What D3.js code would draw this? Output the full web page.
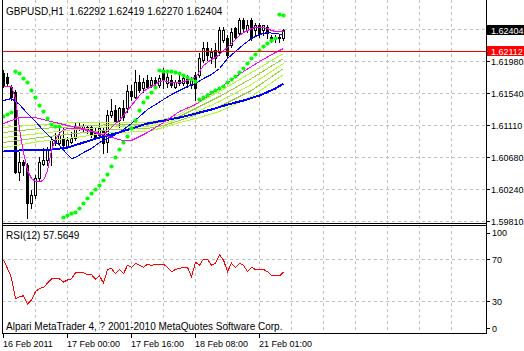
<!DOCTYPE html>
<html>
<head>
<meta charset="utf-8">
<script src="https://cdn.jsdelivr.net/npm/d3@7"></script>
<style>
body { margin: 0; background: #fff; }
svg { display: block; font-family: "Liberation Sans", Arial, sans-serif; font-size: 9px; }
.caption { font-size: 10px; }
</style>
</head>
<body>
<script>
// GBPUSD H1 candles (bar 0 = 16 Feb 2011 08:00)
var open  = [1.61817,1.61763,1.61627,1.61559,1.60474,1.60610,1.60569,1.60054,1.60162,1.60393,
             1.60583,1.60637,1.60786,1.60867,1.60867,1.60935,1.60827,1.60881,1.60935,1.61098,
             1.61071,1.61085,1.61085,1.61017,1.60976,1.61044,1.60881,1.61247,1.61315,1.61179,
             1.61342,1.61342,1.61573,1.61491,1.61695,1.61613,1.61722,1.61654,1.61722,1.61654,
             1.61830,1.61681,1.61722,1.61627,1.61722,1.61681,1.61763,1.61654,1.61790,1.61790,
             1.61993,1.62156,1.62034,1.62129,1.62102,1.62264,1.62292,1.62197,1.62427,1.62359,
             1.62536,1.62400,1.62536,1.62400,1.62468,1.62400,1.62441,1.62305,1.62292,1.62305,
             1.62292];
var high  = [1.61858,1.61817,1.61654,1.61586,1.60745,1.60637,1.60596,1.60230,1.60433,1.60678,
             1.60800,1.60813,1.60949,1.61003,1.61085,1.61085,1.60949,1.61017,1.61139,1.61139,
             1.61125,1.61112,1.61112,1.61085,1.61152,1.61085,1.61315,1.61464,1.61383,1.61356,
             1.61451,1.61654,1.61654,1.61858,1.61790,1.61749,1.61790,1.61763,1.61763,1.61790,
             1.61885,1.61817,1.61790,1.61722,1.61790,1.61790,1.61790,1.61763,1.61830,1.62088,
             1.62237,1.62237,1.62156,1.62224,1.62441,1.62441,1.62332,1.62427,1.62441,1.62563,
             1.62563,1.62536,1.62563,1.62495,1.62495,1.62468,1.62468,1.62332,1.62332,1.62332,
             1.62419];
var low   = [1.61627,1.61654,1.61451,1.60461,1.60366,1.60433,1.59850,1.59986,1.60122,1.60366,
             1.60569,1.60569,1.60569,1.60840,1.60840,1.60813,1.60800,1.60867,1.60908,1.61044,
             1.61017,1.61003,1.60949,1.60935,1.60935,1.60732,1.60745,1.61220,1.61139,1.61085,
             1.61179,1.61288,1.61451,1.61478,1.61559,1.61559,1.61613,1.61627,1.61613,1.61627,
             1.61613,1.61627,1.61627,1.61613,1.61654,1.61654,1.61627,1.61613,1.61451,1.61763,
             1.61966,1.61993,1.61953,1.61898,1.62061,1.62237,1.62034,1.62170,1.62292,1.62332,
             1.62373,1.62373,1.62264,1.62332,1.62305,1.62332,1.62292,1.62237,1.62237,1.62237,
             1.62270];
var close = [1.61654,1.61681,1.61491,1.60474,1.60610,1.60569,1.60054,1.60162,1.60393,1.60610,
             1.60637,1.60773,1.60908,1.60922,1.60976,1.60840,1.60908,1.60935,1.61098,1.61071,
             1.61098,1.61044,1.60976,1.60949,1.61071,1.60867,1.61247,1.61301,1.61152,1.61342,
             1.61220,1.61573,1.61505,1.61695,1.61586,1.61695,1.61627,1.61722,1.61681,1.61749,
             1.61722,1.61763,1.61654,1.61695,1.61681,1.61749,1.61681,1.61722,1.61613,1.62020,
             1.62156,1.62061,1.62102,1.62020,1.62400,1.62400,1.62061,1.62373,1.62305,1.62536,
             1.62427,1.62468,1.62292,1.62468,1.62359,1.62468,1.62359,1.62292,1.62305,1.62292,
             1.62404];

// parabolic SAR dots, one per bar
var sar = [1.61234,1.61261,1.61288,1.61844,1.61817,1.61749,1.61695,1.61586,1.61491,1.61383,
           1.61301,1.61207,1.61125,1.61098,1.61098,1.59864,1.59891,1.59918,1.59932,1.59986,
           1.60054,1.60122,1.60189,1.60244,1.60298,1.60366,1.60447,1.60556,1.60678,1.60786,
           1.60881,1.60962,1.61071,1.61179,1.61315,1.61424,1.61491,1.61559,1.61627,1.61858,
           1.61844,1.61844,1.61844,1.61830,1.61817,1.61790,1.61763,1.61736,1.61708,1.61464,
           1.61491,1.61519,1.61559,1.61586,1.61613,1.61641,1.61695,1.61736,1.61776,1.61830,
           1.61885,1.61953,1.62020,1.62075,1.62129,1.62183,1.62224,1.62264,1.62292,1.62617,
           1.62604];

// fast magenta MA, one per bar
var maFast = [1.61641,1.61641,1.61641,1.61478,1.61071,1.60745,1.60501,1.60393,1.60352,1.60352,
              1.60366,1.60501,1.60773,1.60922,1.61003,1.61057,1.61071,1.61071,1.61071,1.61071,
              1.61057,1.61044,1.61030,1.61017,1.60990,1.60990,1.61030,1.61085,1.61139,1.61179,
              1.61247,1.61315,1.61383,1.61451,1.61519,1.61573,1.61613,1.61641,1.61668,1.61708,
              1.61722,1.61708,1.61695,1.61695,1.61695,1.61708,1.61722,1.61749,1.61763,1.61844,
              1.61925,1.61966,1.62007,1.62034,1.62075,1.62129,1.62170,1.62224,1.62278,1.62332,
              1.62373,1.62400,1.62427,1.62441,1.62441,1.62441,1.62427,1.62400,1.62387,1.62387,
              1.62387];

// thin blue MA, read every second bar
var maBlueBars = [0,2,4,6,8,10,12,14,16,17,18,20,22,24,26,28,30,32,34,36,38,40,42,44,46,48,50,52,54,56,58,60,62,64,66,68,70];
var maBlue = [1.61451,1.61478,1.61396,1.61274,1.61166,1.61044,1.60935,1.60840,1.60718,1.60664,
              1.60678,1.60745,1.60800,1.60881,1.60935,1.60990,1.61057,1.61139,1.61234,1.61329,
              1.61396,1.61464,1.61532,1.61586,1.61641,1.61681,1.61749,1.61803,1.61885,1.62020,
              1.62115,1.62210,1.62292,1.62346,1.62373,1.62359,1.62346];

// slow thick blue MA
var maSlowBars = [0,4,8,12,16,20,24,28,32,36,40,44,48,52,56,60,64,68,70];
var maSlow = [1.60759,1.60773,1.60773,1.60786,1.60813,1.60881,1.60949,1.61003,1.61071,1.61139,
              1.61179,1.61220,1.61274,1.61329,1.61396,1.61451,1.61519,1.61613,1.61681];

// slower magenta MA
var maPinkBars = [0,4,8,12,16,20,24,28,30,32,34,36,40,44,48,52,56,60,64,68,70];
var maPink = [1.61139,1.61220,1.61220,1.61166,1.61112,1.61071,1.61003,1.60935,1.60908,1.60908,
              1.60962,1.61017,1.61152,1.61302,1.61396,1.61546,1.61695,1.61844,1.61980,1.62102,
              1.62156];

// yellow-green ribbon
var ribbonBars = [0,9,18,27,36,40,44,49,54,62,70];
var ribbon1 = [1.61085,1.61125,1.61152,1.61152,1.61152,1.61193,1.61261,1.61424,1.61573,1.61831,1.62088];
var ribbon2 = [1.61017,1.61071,1.61098,1.61125,1.61125,1.61166,1.61234,1.61369,1.61505,1.61749,1.62020];
var ribbon3 = [1.60949,1.61003,1.61057,1.61098,1.61098,1.61139,1.61207,1.61315,1.61437,1.61668,1.61953];
var ribbon4 = [1.60881,1.60949,1.61003,1.61057,1.61071,1.61112,1.61179,1.61274,1.61369,1.61586,1.61885];
var ribbon5 = [1.60813,1.60895,1.60949,1.61017,1.61030,1.61085,1.61152,1.61220,1.61302,1.61505,1.61803];

// RSI(12), one per bar
var rsi = [69,61,52,32,34,35,27,31,39,42,43,47,51,51,51,48,50,51,57,57,
           57,55,55,51,54,47,60,61,56,60,56,64,62,66,64,62,65,64,65,65,
           65,62,58,60,61,62,62,53,67,64,70,70,64,66,74,69,58,66,62,66,
           64,58,62,60,60,60,58,54,54,54,57.5649];

var priceTicks = [1.5981, 1.6024, 1.6068, 1.6111, 1.6154, 1.6198, 1.6241];
var priceLabels = ["1.59810","1.60240","1.60680","1.61110","1.61540","1.61980",""];
var rsiTicks = [100, 70, 30, 0];
var timeTickBars = [0, 16, 32, 48, 64];
var timeLabels = ["16 Feb 2011", "17 Feb 00:00", "17 Feb 16:00", "18 Feb 08:00", "21 Feb 01:00"];
var bidPrice = 1.62404, linePrice = 1.62112;

var W = 524, H = 351;
var left = 2, right = 486, mainBottom = 223, rsiTop = 225, rsiBottom = 333;

var svg = d3.select("body").append("svg").attr("width", W).attr("height", H);

var xs = d3.scaleLinear().domain([0, 70]).range([3, 283]);
var yp = d3.scaleLinear().domain([1.5981, 1.6198]).range([221, 61]);
var yr = d3.scaleLinear().domain([0, 100]).range([332.5, 227.5]);

function px(i) { return Math.round(xs(i)) + 0.5; }
function py(v) { return Math.round(yp(v)) + 0.5; }

svg.append("clipPath").attr("id", "mainClip").append("rect")
   .attr("x", left + 1).attr("y", 0).attr("width", right - left - 1).attr("height", mainBottom);
svg.append("clipPath").attr("id", "rsiClip").append("rect")
   .attr("x", left + 1).attr("y", rsiTop + 1).attr("width", right - left - 1).attr("height", rsiBottom - rsiTop - 1);

// grid
var gridX = d3.range(8, 113, 8);
var grid = svg.append("g").attr("stroke", "#c0c0c0").attr("stroke-dasharray", "3,3")
              .attr("shape-rendering", "crispEdges");
grid.selectAll(".vm").data(gridX).enter().append("line")
    .attr("x1", px).attr("x2", px).attr("y1", 0).attr("y2", mainBottom);
grid.selectAll(".vr").data(gridX).enter().append("line")
    .attr("x1", px).attr("x2", px).attr("y1", rsiTop).attr("y2", rsiBottom);
grid.selectAll(".hm").data(priceTicks).enter().append("line")
    .attr("x1", left).attr("x2", right).attr("y1", py).attr("y2", py);
grid.selectAll(".hr").data([70, 30]).enter().append("line")
    .attr("x1", left).attr("x2", right)
    .attr("y1", function(d) { return Math.round(yr(d)) + 0.5; })
    .attr("y2", function(d) { return Math.round(yr(d)) + 0.5; });

// candles
var main = svg.append("g").attr("clip-path", "url(#mainClip)");
var bars = d3.range(close.length);
var cg = main.append("g").attr("shape-rendering", "crispEdges");
cg.selectAll(".wick").data(bars).enter().append("line")
  .attr("x1", px).attr("x2", px)
  .attr("y1", function(i) { return py(high[i]) - 0.5; })
  .attr("y2", function(i) { return py(low[i]) + 0.5; })
  .attr("stroke", "#000");
cg.selectAll(".body").data(bars).enter().append("rect")
  .attr("x", function(i) { return px(i) - 1; })
  .attr("width", 2)
  .attr("y", function(i) { return py(Math.max(open[i], close[i])); })
  .attr("height", function(i) { return py(Math.min(open[i], close[i])) - py(Math.max(open[i], close[i])); })
  .attr("fill", function(i) { return close[i] >= open[i] ? "#fff" : "#000"; })
  .attr("stroke", "#000");

// indicator lines, aliased like the terminal draws them
function drawLine(xsBars, vals, color, width) {
  var pts = xsBars.map(function(b, k) { return [b, vals[k]]; });
  main.append("path").datum(pts)
      .attr("fill", "none").attr("stroke", color).attr("stroke-width", width)
      .attr("shape-rendering", "crispEdges")
      .attr("d", d3.line().x(function(d) { return xs(d[0]) + 0.5; }).y(function(d) { return yp(d[1]) + 0.5; }));
}
drawLine(ribbonBars, ribbon5, "#adff2f", 1);
drawLine(ribbonBars, ribbon4, "#9acd32", 1);
drawLine(ribbonBars, ribbon3, "#adff2f", 1);
drawLine(ribbonBars, ribbon2, "#9acd32", 1);
drawLine(ribbonBars, ribbon1, "#adff2f", 1);
drawLine(maSlowBars, maSlow, "#0000ff", 2);
drawLine(maPinkBars, maPink, "#ff00ff", 1);
drawLine(maBlueBars, maBlue, "#0000ff", 1);
drawLine(bars, maFast, "#ff00ff", 1);

// SAR
main.selectAll(".sar").data(bars).enter().append("circle")
    .attr("cx", px).attr("cy", function(i) { return yp(sar[i]) + 0.5; })
    .attr("r", 2.1).attr("fill", "#00ff00");

// horizontal line object
main.append("line").attr("x1", left).attr("x2", right)
    .attr("y1", py(linePrice)).attr("y2", py(linePrice))
    .attr("stroke", "#ff0000").attr("shape-rendering", "crispEdges");

// RSI
svg.append("g").attr("clip-path", "url(#rsiClip)").append("path").datum(bars)
   .attr("fill", "none").attr("stroke", "#ff0000").attr("stroke-width", 1)
   .attr("shape-rendering", "crispEdges")
   .attr("d", d3.line().x(function(i) { return xs(i) + 0.5; }).y(function(i) { return yr(rsi[i]); }));

// frames
var frame = svg.append("g").attr("stroke", "#000").attr("shape-rendering", "crispEdges");
frame.append("line").attr("x1", left + 0.5).attr("x2", left + 0.5).attr("y1", 0).attr("y2", rsiBottom + 1);
frame.append("line").attr("x1", right + 0.5).attr("x2", right + 0.5).attr("y1", 0).attr("y2", rsiBottom + 1);
[mainBottom, rsiTop, rsiBottom].forEach(function(y) {
  frame.append("line").attr("x1", left).attr("x2", right + 1).attr("y1", y + 0.5).attr("y2", y + 0.5);
});

// price axis
var pa = svg.append("g");
pa.selectAll(".pt").data(priceTicks).enter().append("line")
  .attr("x1", right).attr("x2", right + 4).attr("y1", py).attr("y2", py)
  .attr("stroke", "#000").attr("shape-rendering", "crispEdges");
pa.selectAll(".pl").data(priceTicks).enter().append("text")
  .attr("x", right + 5).attr("y", function(d) { return py(d) + 3; })
  .text(function(d, k) { return priceLabels[k]; });
[[bidPrice, "#000"], [linePrice, "#ff0000"]].forEach(function(b) {
  pa.append("rect").attr("x", right + 1).attr("y", py(b[0]) - 5.5).attr("width", W - right).attr("height", 10)
    .attr("fill", b[1]);
  pa.append("text").attr("x", right + 5).attr("y", py(b[0]) + 3).attr("fill", "#fff").text(b[0].toFixed(5));
});

// RSI axis
var rsiLabelY = { 100: yr(100) + 5, 70: yr(70), 30: yr(30), 0: yr(0) - 4.5 };
pa.selectAll(".rt").data(rsiTicks).enter().append("line")
  .attr("x1", right).attr("x2", right + 4)
  .attr("y1", function(d) { return Math.round(rsiLabelY[d]) + 0.5; })
  .attr("y2", function(d) { return Math.round(rsiLabelY[d]) + 0.5; })
  .attr("stroke", "#000").attr("shape-rendering", "crispEdges");
pa.selectAll(".rl").data(rsiTicks).enter().append("text")
  .attr("x", right + 6).attr("y", function(d) { return rsiLabelY[d] + 3.5; })
  .text(function(d) { return d; });

// time axis
var ta = svg.append("g");
ta.selectAll(".tt").data(timeTickBars).enter().append("line")
  .attr("x1", px).attr("x2", px).attr("y1", rsiBottom).attr("y2", rsiBottom + 5)
  .attr("stroke", "#000").attr("shape-rendering", "crispEdges");
ta.selectAll(".tl").data(timeTickBars).enter().append("text")
  .attr("x", function(b) { return px(b) - 0.5; }).attr("y", 347)
  .text(function(b, k) { return timeLabels[k]; });

// captions
svg.append("text").attr("class", "caption").attr("x", 6).attr("y", 15).attr("xml:space", "preserve")
   .text("GBPUSD,H1  1.62292 1.62419 1.62270 1.62404");
svg.append("text").attr("class", "caption").attr("x", 6).attr("y", 239).text("RSI(12) 57.5649");
svg.append("text").attr("class", "caption").attr("x", 6).attr("y", 330)
   .text("Alpari MetaTrader 4, ? 2001-2010 MetaQuotes Software Corp.");
</script>
</body>
</html>
